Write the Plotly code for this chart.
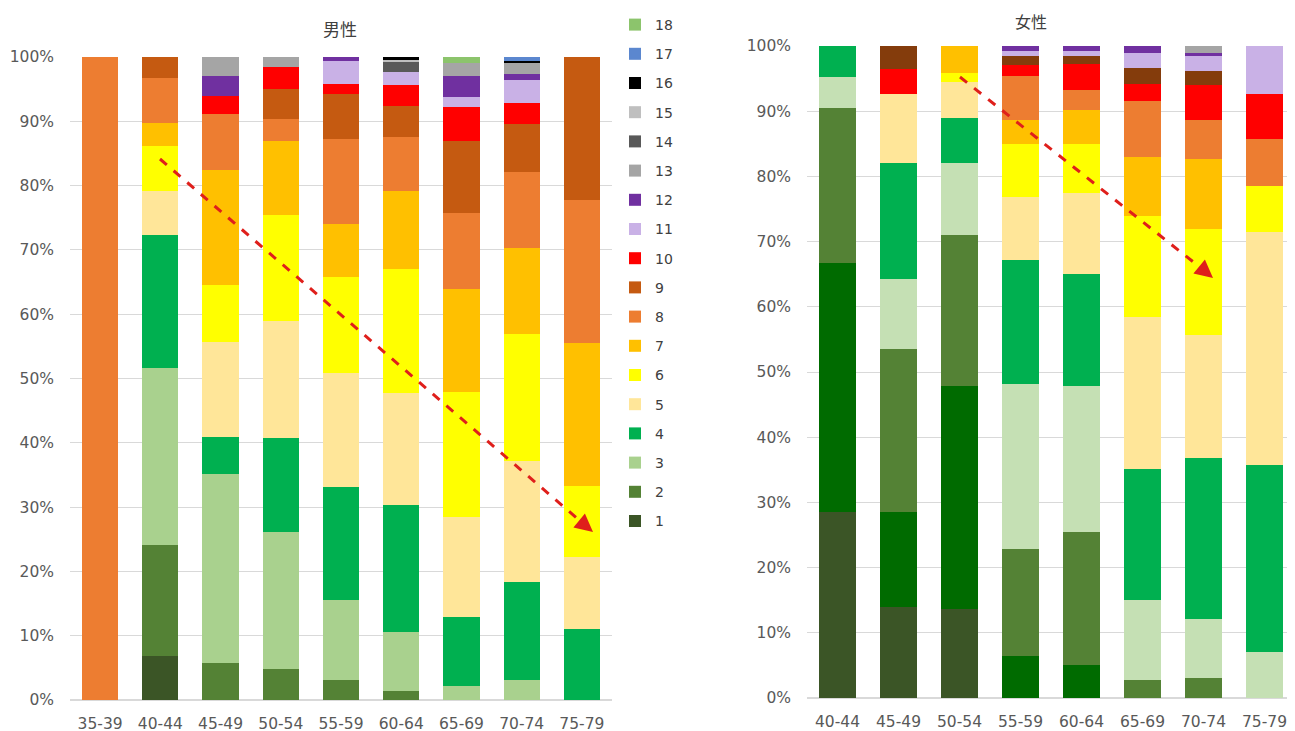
import plotly.graph_objects as go

ages_m = ["35-39", "40-44", "45-49", "50-54", "55-59", "60-64", "65-69", "70-74", "75-79"]
ages_f = ["40-44", "45-49", "50-54", "55-59", "60-64", "65-69", "70-74", "75-79"]

# 男性 : share (%) of each level 1..18 per age group
m1 = [0, 6.9, 0, 0, 0, 0, 0, 0, 0]
m2 = [0, 17.2, 5.8, 4.8, 3.1, 1.4, 0, 0, 0]
m3 = [0, 27.6, 29.4, 21.3, 12.4, 9.1, 2.2, 3.1, 0]
m4 = [0, 20.6, 5.7, 14.6, 17.6, 19.8, 10.7, 15.3, 11.1]
m5 = [0, 6.9, 14.7, 18.2, 17.7, 17.5, 15.6, 18.8, 11.1]
m6 = [0, 7.0, 9.0, 16.5, 15.0, 19.2, 19.4, 19.7, 11.1]
m7 = [0, 3.5, 17.8, 11.5, 8.2, 12.2, 16.0, 13.4, 22.2]
m8 = [100, 7.0, 8.8, 3.4, 13.2, 8.3, 11.9, 11.8, 22.2]
m9 = [0, 3.3, 0, 4.8, 7.1, 4.9, 11.2, 7.5, 22.3]
m10 = [0, 0, 2.8, 3.3, 1.5, 3.2, 5.2, 3.2, 0]
m11 = [0, 0, 0, 0, 3.6, 2.1, 1.6, 3.7, 0]
m12 = [0, 0, 3.1, 0, 0.6, 0, 3.3, 0.9, 0]
m13 = [0, 0, 2.9, 1.6, 0, 0, 2.0, 1.7, 0]
m14 = [0, 0, 0, 0, 0, 1.5, 0, 0, 0]
m15 = [0, 0, 0, 0, 0, 0.4, 0, 0, 0]
m16 = [0, 0, 0, 0, 0, 0.4, 0, 0.3, 0]
m17 = [0, 0, 0, 0, 0, 0, 0, 0.6, 0]
m18 = [0, 0, 0, 0, 0, 0, 0.9, 0, 0]
male_series = [m1, m2, m3, m4, m5, m6, m7, m8, m9, m10, m11, m12, m13, m14, m15, m16, m17, m18]
male_names = [str(i) for i in range(1, 19)]
male_colors = ["#3B5526", "#548235", "#A9D18E", "#00B050", "#FFE699", "#FFFF00",
               "#FFC000", "#ED7D31", "#C55A11", "#FF0000", "#C9B1E6", "#7030A0",
               "#A5A5A5", "#595959", "#BFBFBF", "#000000", "#5B87CF", "#8CC46C"]

# 女性
f1 = [28.6, 14.0, 13.7, 0, 0, 0, 0, 0]
f2 = [38.1, 14.5, 34.2, 6.4, 5.0, 0, 0, 0]
f3 = [23.8, 25.0, 23.1, 16.4, 20.4, 2.7, 3.1, 0]
f4 = [4.8, 10.8, 11.0, 25.4, 22.5, 12.4, 9.0, 7.1]
f5 = [4.7, 17.7, 6.9, 19.0, 17.1, 20.0, 24.7, 28.6]
f6 = [0, 10.7, 5.6, 9.7, 12.4, 23.4, 18.8, 35.7]
f7 = [0, 0, 1.3, 8.1, 7.6, 15.4, 16.3, 7.1]
f8 = [0, 0, 4.2, 3.7, 5.2, 9.1, 10.7, 0]
f9 = [0, 0, 0, 6.7, 3.0, 8.6, 6.1, 7.3]
f10 = [0, 3.7, 0, 1.7, 4.1, 2.5, 5.3, 6.9]
f11 = [0, 3.6, 0, 1.3, 1.2, 2.5, 2.1, 0]
f12 = [0, 0, 0, 0.9, 0.8, 2.3, 2.3, 7.3]
f13 = [0, 0, 0, 0.7, 0.7, 1.1, 0.5, 0]
f14 = [0, 0, 0, 0, 0, 0, 1.1, 0]
female_series = [f1, f2, f3, f4, f5, f6, f7, f8, f9, f10, f11, f12, f13, f14]
female_colors = ["#3B5526", "#006B00", "#548235", "#C5E0B4", "#00B050", "#FFE699",
                 "#FFFF00", "#FFC000", "#ED7D31", "#FF0000", "#843C0C", "#C9B1E6",
                 "#7030A0", "#A5A5A5"]

y_ticks = [0, 10, 20, 30, 40, 50, 60, 70, 80, 90, 100]
y_labels = [f"{v}%" for v in y_ticks]

OFF = 8  # page body margin
W, H = 1295 - OFF, 731 - OFF
fig = go.Figure()

for k, (name, vals, col) in enumerate(zip(male_names, male_series, male_colors)):
    fig.add_trace(go.Bar(x=ages_m, y=vals, name=name, marker=dict(color=col, line=dict(width=0)),
                         legendgroup=name, legendrank=100 - k, xaxis="x", yaxis="y"))
for i, (vals, col) in enumerate(zip(female_series, female_colors)):
    fig.add_trace(go.Bar(x=ages_f, y=vals, name="f" + str(i + 1), showlegend=False,
                         marker=dict(color=col, line=dict(width=0)), xaxis="x2", yaxis="y2"))

tick_font = dict(family="DejaVu Sans", size=15.5, color="#595959")
grid = "#D9D9D9"


def px(x):
    return (x - OFF) / W


def py(y):
    return 1 - (y - OFF) / H


fig.update_layout(
    width=W, height=H, barmode="stack", bargap=0.4,
    margin=dict(l=0, r=0, t=0, b=0),
    paper_bgcolor="white", plot_bgcolor="white",
    xaxis=dict(domain=[px(70), px(612)], tickfont=tick_font, showgrid=False, showline=False,
               ticks="", automargin=False, anchor="y", ticklabelstandoff=12),
    yaxis=dict(domain=[py(700), py(57)], range=[0, 100], tickvals=y_ticks, ticktext=y_labels,
               tickfont=tick_font, gridcolor=grid, showline=False, zeroline=True,
               zerolinecolor=grid, ticks="", automargin=False, anchor="x", ticklabelstandoff=15),
    xaxis2=dict(domain=[px(807), px(1295)], tickfont=tick_font, showgrid=False, showline=False,
                ticks="", automargin=False, anchor="y2", ticklabelstandoff=12),
    yaxis2=dict(domain=[py(698), py(46)], range=[0, 100], tickvals=y_ticks, ticktext=y_labels,
                tickfont=tick_font, gridcolor=grid, showline=False, zeroline=True,
                zerolinecolor=grid, ticks="", automargin=False, anchor="x2", ticklabelstandoff=15),
    legend=dict(x=px(615), y=py(9), xanchor="left", yanchor="top", traceorder="grouped",
                font=dict(family="DejaVu Sans", size=14, color="#404040"),
                bgcolor="rgba(0,0,0,0)", itemwidth=30, tracegroupgap=8),
    font=dict(family="DejaVu Sans"),
)

title_font = dict(family="Noto Sans CJK JP", size=17, color="#404040")
fig.add_annotation(text="男性", x=px(340), y=py(28), xref="paper", yref="paper", showarrow=False,
                   xanchor="center", yanchor="middle", font=title_font)
fig.add_annotation(text="女性", x=px(1031), y=py(21), xref="paper", yref="paper", showarrow=False,
                   xanchor="center", yanchor="middle", font=dict(family="Noto Sans CJK JP", size=16, color="#404040"))

# dashed arrows
arrow_col = "#DF1F1B"
for (x0, y0, x1, y1) in [(160, 159, 586, 526), (960, 77, 1206, 272)]:
    fig.add_shape(type="line", xref="paper", yref="paper", x0=px(x0), y0=py(y0), x1=px(x1), y1=py(y1),
                  line=dict(color=arrow_col, width=3, dash="dash"))
    fig.add_annotation(x=px(x1 + 7), y=py(y1 + 6), xref="paper", yref="paper", ax=-12, ay=-10,
                       axref="pixel", ayref="pixel", text="", showarrow=True, arrowhead=2,
                       arrowsize=1.2, arrowwidth=3, arrowcolor=arrow_col)

fig.write_html("out.html")
